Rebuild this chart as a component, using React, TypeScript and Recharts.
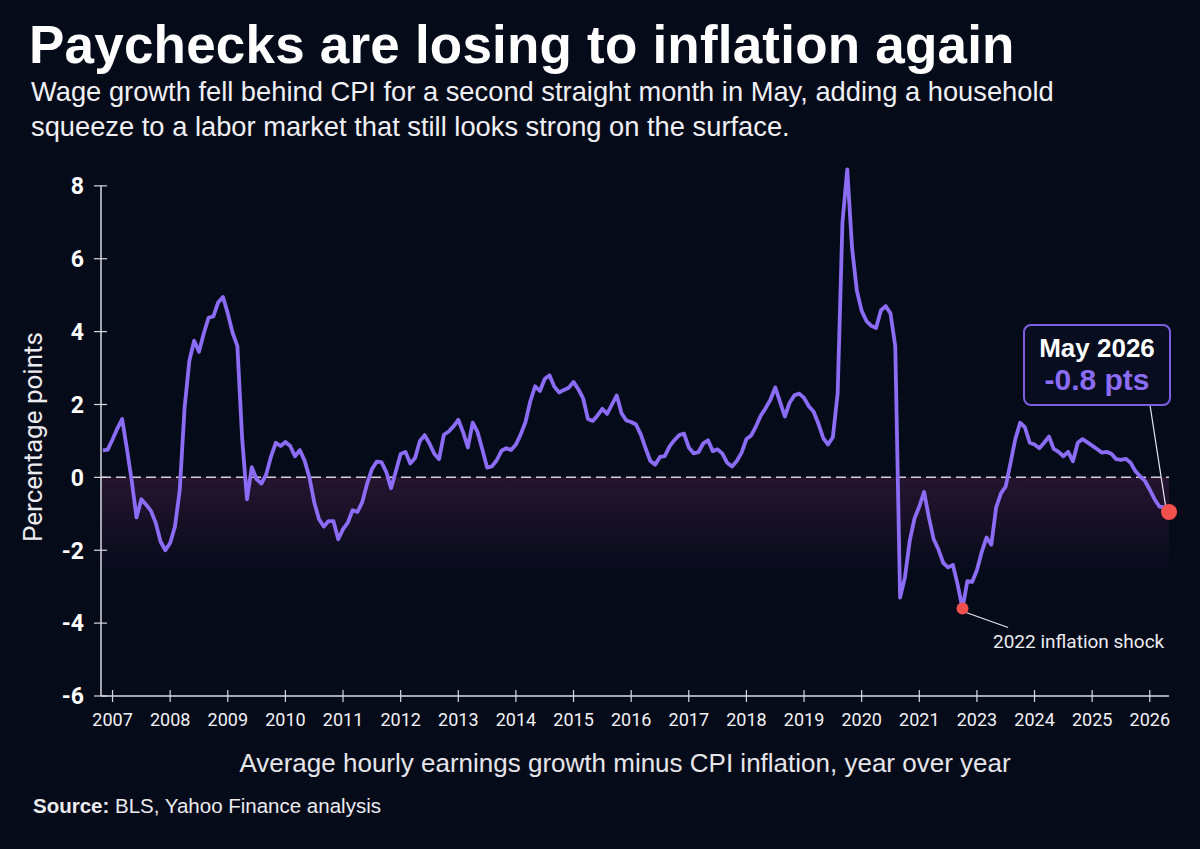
import React from 'react';
import {
  LineChart,
  Line,
  XAxis,
  YAxis,
  ReferenceLine,
  ReferenceArea,
  ReferenceDot,
} from 'recharts';

// Year labels printed under the axis (the source chart skips 2022)
const yearLabels = [
  '2007', '2008', '2009', '2010', '2011', '2012', '2013', '2014', '2015', '2016',
  '2017', '2018', '2019', '2020', '2021', '2023', '2024', '2025', '2026',
];

// Wage growth minus CPI, percentage points, one reading per month
const gapValues = [
  0.74, 0.76, 1.04, 1.34, 1.6, 0.78, -0.1, -1.1, -0.6, -0.75,
  -0.92, -1.25, -1.76, -2.0, -1.8, -1.35, -0.35, 1.9, 3.2, 3.75,
  3.45, 3.95, 4.38, 4.42, 4.8, 4.95, 4.5, 3.97, 3.6, 1.05,
  -0.6, 0.28, -0.05, -0.17, 0.08, 0.57, 0.95, 0.86, 0.97, 0.86,
  0.58, 0.75, 0.46, 0.0, -0.68, -1.15, -1.35, -1.2, -1.2, -1.7,
  -1.42, -1.24, -0.9, -0.95, -0.68, -0.18, 0.22, 0.43, 0.42, 0.15,
  -0.3, 0.17, 0.64, 0.7, 0.38, 0.53, 1.0, 1.16, 0.93, 0.65,
  0.5, 1.17, 1.26, 1.4, 1.58, 1.24, 0.82, 1.5, 1.25, 0.77,
  0.27, 0.3, 0.47, 0.73, 0.8, 0.75, 0.9, 1.18, 1.52, 2.09,
  2.5, 2.37, 2.7, 2.8, 2.49, 2.33, 2.4, 2.46, 2.62, 2.42,
  2.17, 1.6, 1.55, 1.7, 1.88, 1.74, 2.0, 2.25, 1.76, 1.56,
  1.52, 1.45, 1.18, 0.8, 0.45, 0.35, 0.56, 0.58, 0.85, 1.02,
  1.16, 1.2, 0.82, 0.66, 0.69, 0.93, 1.02, 0.72, 0.77, 0.65,
  0.4, 0.3, 0.45, 0.68, 1.05, 1.15, 1.4, 1.7, 1.9, 2.13,
  2.47, 2.07, 1.67, 2.05, 2.25, 2.3, 2.18, 1.95, 1.8, 1.47,
  1.08, 0.9, 1.1, 2.3, 7.0, 8.45, 6.3, 5.12, 4.57, 4.29,
  4.16, 4.1, 4.58, 4.7, 4.5, 3.6, -3.3, -2.75, -1.75, -1.13,
  -0.8, -0.4, -1.1, -1.7, -1.98, -2.35, -2.47, -2.4, -2.95, -3.6,
  -2.85, -2.87, -2.55, -2.05, -1.65, -1.85, -0.83, -0.44, -0.25, 0.4,
  1.05, 1.5, 1.37, 0.95, 0.9, 0.8, 0.95, 1.12, 0.78, 0.7,
  0.58, 0.7, 0.44, 0.95, 1.05, 0.96, 0.87, 0.78, 0.68, 0.7,
  0.65, 0.5, 0.48, 0.51, 0.4, 0.17, 0.03, -0.1, -0.34, -0.6,
  -0.8, -0.82, -0.95,
];

const yTicks = [-6, -4, -2, 0, 2, 4, 6, 8];

// month index of the first year tick, and of the 2022 low
const firstTickMonth = 2;
const shockMonth = 179;
const latestMonth = gapValues.length - 1;

const data = gapValues.map((gap, month) => ({ month, gap }));
const xTicks = yearLabels.map((_, k) => firstTickMonth + 12 * k);

const xMin = -0.4;
const yMin = yTicks[0];
const yMax = yTicks[yTicks.length - 1];

const BG = '#060b1a';
const AXIS = '#d9d9e0';
const PURPLE = '#8b6cf4';
const RED = '#f0514d';
const FONT = 'Roboto, "Noto Sans", sans-serif';
const HEAD = '"Liberation Sans", Arial, sans-serif';

const XTick = (props: any) => {
  const { x, y, payload } = props;
  const label = yearLabels[xTicks.indexOf(payload.value)];
  return (
    <g>
      <line x1={x} x2={x} y1={y - 6} y2={y + 6} stroke={AXIS} strokeWidth={1.2} />
      <text x={x} y={y + 30} textAnchor="middle" fill="#f2f2f5" fontSize={18} fontFamily={FONT}>
        {label}
      </text>
    </g>
  );
};

const YTick = (props: any) => {
  const { x, y, payload } = props;
  return (
    <g>
      <line x1={x - 7} x2={x + 6} y1={y} y2={y} stroke={AXIS} strokeWidth={1.2} />
      <text
        x={x - 17}
        y={y}
        dy="0.36em"
        textAnchor="end"
        fill="#ffffff"
        fontSize={23}
        fontWeight={700}
        fontFamily={FONT}
      >
        {payload.value}
      </text>
    </g>
  );
};

export default function App() {
  return (
    <div
      style={{
        position: 'absolute',
        left: 0,
        top: 0,
        width: 1200,
        height: 849,
        background: BG,
        fontFamily: HEAD,
        color: '#fff',
        overflow: 'hidden',
      }}
    >
      <div style={{ position: 'absolute', left: 29, top: 18, fontSize: 53, fontWeight: 700, lineHeight: '53px', letterSpacing: 0.2 }}>
        Paychecks are losing to inflation again
      </div>
      <div style={{ position: 'absolute', left: 31, top: 74, fontSize: 27.3, lineHeight: '35px', color: '#f0f0f4', width: 1160 }}>
        Wage growth fell behind CPI for a second straight month in May, adding a household
        <br />
        squeeze to a labor market that still looks strong on the surface.
      </div>

      <LineChart
        width={1200}
        height={849}
        data={data}
        margin={{ top: 164, right: 31, bottom: 123, left: 41 }}
        style={{ position: 'absolute', left: 0, top: 0 }}
      >
        <defs>
          <linearGradient id="belowZero" x1="0" y1="0" x2="0" y2="1">
            <stop offset="0%" stopColor="#6e2a60" stopOpacity={0.3} />
            <stop offset="100%" stopColor="#6e2a60" stopOpacity={0} />
          </linearGradient>
        </defs>
        <ReferenceArea y1={0} y2={-2.6} fill="url(#belowZero)" fillOpacity={1} stroke="none" />
        <XAxis
          dataKey="month"
          type="number"
          domain={[xMin, 222]}
          ticks={xTicks}
          tick={<XTick />}
          tickSize={0}
          tickMargin={0}
          tickLine={false}
          axisLine={{ stroke: AXIS, strokeWidth: 1.5 }}
          height={30}
          interval={0}
        />
        <YAxis
          type="number"
          domain={[yMin, 8.6]}
          ticks={yTicks}
          tick={<YTick />}
          tickSize={0}
          tickMargin={0}
          tickLine={false}
          axisLine={false}
          width={60}
          interval={0}
        />
        {/* y axis line only runs up to the top tick */}
        <ReferenceLine
          segment={[
            { x: xMin, y: yMin },
            { x: xMin, y: yMax },
          ]}
          stroke={AXIS}
          strokeWidth={1.5}
        />
        <ReferenceLine y={0} stroke="#cfcfd8" strokeWidth={1.5} strokeDasharray="10 5" />
        <Line
          type="linear"
          dataKey="gap"
          stroke={PURPLE}
          strokeWidth={3.8}
          strokeLinejoin="round"
          dot={false}
          activeDot={false}
          isAnimationActive={false}
        />
        <ReferenceLine
          segment={[
            { x: shockMonth + 0.6, y: gapValues[shockMonth] - 0.1 },
            { x: shockMonth + 9.5, y: -4.12 },
          ]}
          stroke="#e8e8ee"
          strokeWidth={1.2}
        />
        <ReferenceLine
          segment={[
            { x: latestMonth - 0.6, y: gapValues[latestMonth] + 0.07 },
            { x: latestMonth - 3.95, y: 1.98 },
          ]}
          stroke="#e8e8ee"
          strokeWidth={1.2}
        />
        <ReferenceDot x={shockMonth} y={gapValues[shockMonth]} r={6} fill={RED} stroke="none" />
        <ReferenceDot x={latestMonth} y={gapValues[latestMonth]} r={8} fill={RED} stroke="none" />
      </LineChart>

      <div
        style={{
          position: 'absolute',
          left: 33,
          top: 437,
          transform: 'translate(-50%, -50%) rotate(-90deg)',
          fontSize: 26,
          color: '#ececf0',
          fontFamily: FONT,
          whiteSpace: 'nowrap',
        }}
      >
        Percentage points
      </div>

      <div style={{ position: 'absolute', left: 993, top: 630, fontSize: 19, color: '#ececf0', fontFamily: FONT, whiteSpace: 'nowrap' }}>
        2022 inflation shock
      </div>

      <div
        style={{
          position: 'absolute',
          left: 1023,
          top: 324,
          width: 148,
          height: 82,
          boxSizing: 'border-box',
          border: '2px solid #7b5fe0',
          borderRadius: 8,
          background: '#080d20',
          textAlign: 'center',
        }}
      >
        <div style={{ fontSize: 26, fontWeight: 700, lineHeight: '30px', marginTop: 7 }}>May 2026</div>
        <div style={{ fontSize: 30, fontWeight: 700, lineHeight: '34px', color: PURPLE }}>-0.8 pts</div>
      </div>

      <div
        style={{
          position: 'absolute',
          left: 0,
          width: 1250,
          top: 748,
          textAlign: 'center',
          fontSize: 26,
          color: '#e6e6ea',
        }}
      >
        Average hourly earnings growth minus CPI inflation, year over year
      </div>

      <div style={{ position: 'absolute', left: 33, top: 794, fontSize: 20.5, color: '#ececf0' }}>
        <span style={{ fontWeight: 700 }}>Source:</span> BLS, Yahoo Finance analysis
      </div>
    </div>
  );
}
